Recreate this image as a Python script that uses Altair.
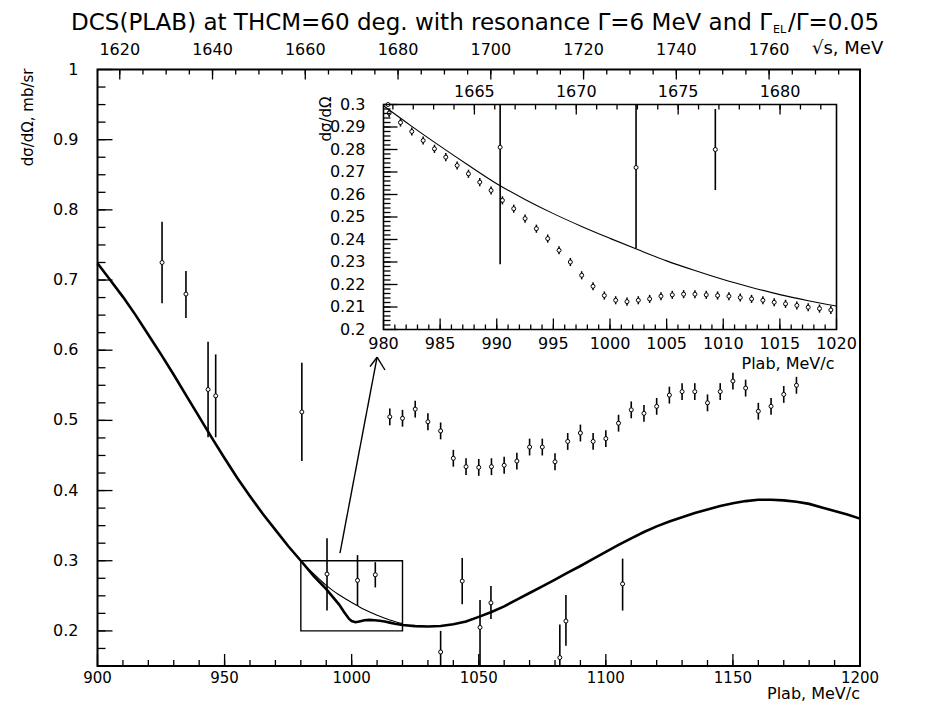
import altair as alt
import pandas as pd

# ---------------- data ----------------
# thick curve (DCS with resonance), main panel
res_p = [900, 905, 910, 915, 920, 925, 930, 935, 940, 945, 950, 955, 960, 965, 970, 975, 980,
         985, 990, 995, 997, 999, 1000, 1001.5, 1003, 1005, 1007, 1009, 1011, 1013, 1015, 1017, 1020,
         1025, 1030, 1035, 1040, 1045, 1050, 1055, 1060, 1065, 1070, 1075, 1080, 1085, 1090, 1095,
         1100, 1105, 1110, 1115, 1120, 1125, 1130, 1135, 1140, 1145, 1150, 1155, 1160, 1165, 1170,
         1175, 1180, 1185, 1190, 1195, 1200]
res_v = [0.724, 0.700, 0.676, 0.650, 0.622, 0.594, 0.565, 0.535, 0.505, 0.475, 0.446, 0.418, 0.392,
         0.367, 0.344, 0.321, 0.300,
         0.2785, 0.2596, 0.2378, 0.2270, 0.2171, 0.2140, 0.2124, 0.2133, 0.2151, 0.2157, 0.2152,
         0.2145, 0.2133, 0.2118, 0.2103, 0.2085,
         0.2068, 0.2062, 0.2070, 0.2095, 0.2133, 0.2200, 0.2270, 0.2350, 0.2445, 0.2540, 0.2635,
         0.2730, 0.2830, 0.2925, 0.3025, 0.3125, 0.3225, 0.3320, 0.3410, 0.3490, 0.3560, 0.3620,
         0.3680, 0.3730, 0.3780, 0.3820, 0.3850, 0.3870, 0.3870, 0.3860, 0.3840, 0.3810, 0.3760,
         0.3710, 0.3660, 0.3600]

# thin curve (no resonance), 980-1020
bg_p = [980, 982.5, 985, 987.5, 990, 992.5, 995, 997.5, 1000, 1002.5, 1005, 1007.5, 1010,
        1012.5, 1015, 1017.5, 1020]
bg_v = [0.2995, 0.2903, 0.2815, 0.2730, 0.2648, 0.2578, 0.2515, 0.2458, 0.2405, 0.2354, 0.2305,
        0.2262, 0.2222, 0.2187, 0.2155, 0.2128, 0.2104]

# sparse measured points (large error bars)
sp_p = [925.4, 934.8, 943.5, 946.5, 980.4, 990.3, 1002.3, 1009.3, 1035.0, 1043.5, 1050.5,
        1054.8, 1081.9, 1084.3, 1106.6]
sp_v = [0.725, 0.680, 0.544, 0.535, 0.512, 0.281, 0.272, 0.280, 0.170, 0.271, 0.205,
        0.240, 0.162, 0.214, 0.267]
sp_lo = [0.667, 0.646, 0.476, 0.476, 0.442, 0.229, 0.236, 0.262, 0.140, 0.238, 0.140,
         0.217, 0.115, 0.179, 0.229]
sp_hi = [0.783, 0.713, 0.612, 0.594, 0.582, 0.332, 0.308, 0.298, 0.200, 0.304, 0.244,
         0.264, 0.209, 0.251, 0.303]

# upper series (pseudo-data, small error bars)
up_p = [1015, 1020, 1025, 1030, 1035, 1040, 1045, 1050, 1055, 1060, 1065, 1070, 1075, 1080,
        1085, 1090, 1095, 1100, 1105, 1110, 1115, 1120, 1125, 1130, 1135, 1140, 1145, 1150,
        1155, 1160, 1165, 1170, 1175]
up_v = [0.505, 0.503, 0.516, 0.498, 0.485, 0.446, 0.434, 0.433, 0.434, 0.436, 0.442, 0.462,
        0.462, 0.441, 0.470, 0.482, 0.470, 0.474, 0.496, 0.515, 0.510, 0.520, 0.536, 0.541,
        0.541, 0.525, 0.541, 0.556, 0.546, 0.513, 0.520, 0.537, 0.550]
up_e = [0.012, 0.012, 0.012, 0.012, 0.012, 0.012, 0.012, 0.012, 0.012, 0.012, 0.012, 0.012,
        0.012, 0.012, 0.012, 0.012, 0.012, 0.012, 0.012, 0.012, 0.012, 0.012, 0.012, 0.012,
        0.012, 0.012, 0.012, 0.012, 0.012, 0.012, 0.012, 0.012, 0.012]

# inset: dense points 980.5 ... 1019.5
in_p = [980.5, 981.5, 982.5, 983.5, 984.5, 985.5, 986.5, 987.5, 988.5, 989.5, 990.5, 991.5,
        992.5, 993.5, 994.5, 995.5, 996.5, 997.5, 998.5, 999.5, 1000.5, 1001.5, 1002.5, 1003.5,
        1004.5, 1005.5, 1006.5, 1007.5, 1008.5, 1009.5, 1010.5, 1011.5, 1012.5, 1013.5, 1014.5,
        1015.5, 1016.5, 1017.5, 1018.5, 1019.5]
in_v = [0.2962, 0.2920, 0.2880, 0.2840, 0.2803, 0.2766, 0.2729, 0.2692, 0.2655, 0.2618, 0.2574,
        0.2537, 0.2493, 0.2448, 0.2404, 0.2352, 0.2300, 0.2241, 0.2192, 0.2151, 0.2130, 0.2124,
        0.2130, 0.2136, 0.2148, 0.2154, 0.2157, 0.2157, 0.2154, 0.2151, 0.2148, 0.2142, 0.2136,
        0.2130, 0.2121, 0.2114, 0.2107, 0.2099, 0.2093, 0.2087]
in_e = [0.0018] * len(in_v)

# box and arrow (main-panel coordinates)
box_p = [980, 1020]
box_v = [0.2, 0.3]
arrow_p0 = [995.4, 1010.0, 1010.0]
arrow_v0 = [0.311, 0.590, 0.590]
arrow_p1 = [1010.0, 1007.2, 1013.1]
arrow_v1 = [0.590, 0.5765, 0.5718]

# axes
main_x_major = [900, 950, 1000, 1050, 1100, 1150, 1200]
main_x_minor = list(range(910, 1200, 10))
main_y_major = [0.2, 0.3, 0.4, 0.5, 0.6, 0.7, 0.8, 0.9, 1.0]
main_y_labels = ["0.2", "0.3", "0.4", "0.5", "0.6", "0.7", "0.8", "0.9", "1"]
main_y_minor = [0.175 + 0.025 * i for i in range(33)]
top_major = [1620, 1640, 1660, 1680, 1700, 1720, 1740, 1760]
top_minor = list(range(1620, 1780, 5))
sqrt_s_range = [1615.2, 1779.6]

in_x_major = [980, 985, 990, 995, 1000, 1005, 1010, 1015, 1020]
in_x_minor = list(range(981, 1020))
in_y_major = [0.2, 0.21, 0.22, 0.23, 0.24, 0.25, 0.26, 0.27, 0.28, 0.29, 0.3]
in_y_labels = ["0.2", "0.21", "0.22", "0.23", "0.24", "0.25", "0.26", "0.27", "0.28", "0.29", "0.3"]
in_y_minor = [0.2 + 0.002 * i for i in range(1, 50)]
in_top_major = [1665, 1670, 1675, 1680]
in_top_minor = list(range(1661, 1683))
in_sqrt_s_range = [1660.54, 1682.77]

# ---------------- geometry ----------------
W, H = 762.5, 596.5
PAD_L, PAD_T = 89.5, 61.5
X0 = PAD_L + 8       # page x of plot origin
Y0 = PAD_T + 8       # page y of plot origin
IN_L, IN_R, IN_T, IN_B = 286, 739, 35, 260
FONT = "DejaVu Sans"

XM = alt.Scale(domain=[900, 1200], nice=False, zero=False)
YM = alt.Scale(domain=[0.15, 1.0], nice=False, zero=False, clamp=True)
XT = alt.Scale(domain=sqrt_s_range, nice=False, zero=False)
XI = alt.Scale(domain=[980, 1020], range=[IN_L, IN_R], nice=False, zero=False)
YI = alt.Scale(domain=[0.2, 0.3], range=[IN_B, IN_T], nice=False, zero=False, clamp=True)
XIT = alt.Scale(domain=in_sqrt_s_range, range=[IN_L, IN_R], nice=False, zero=False)


def qx(f, s):
    return alt.X(f + ":Q", scale=s, axis=None)


def qy(f, s):
    return alt.Y(f + ":Q", scale=s, axis=None)


def qx2(f):
    return alt.X2(f + ":Q")


def qy2(f):
    return alt.Y2(f + ":Q")


layers = []

# ---------- main panel ----------
df_res = pd.DataFrame({"p": res_p, "v": res_v})
layers.append(alt.Chart(df_res).mark_line(color="black", strokeWidth=2.6)
              .encode(x=qx("p", XM), y=qy("v", YM)))
df_bg = pd.DataFrame({"p": bg_p, "v": bg_v})
layers.append(alt.Chart(df_bg).mark_line(color="black", strokeWidth=1.1, interpolate="monotone")
              .encode(x=qx("p", XM), y=qy("v", YM)))

df_box = pd.DataFrame({"p0": [box_p[0]], "p1": [box_p[1]], "v0": [box_v[0]], "v1": [box_v[1]]})
layers.append(alt.Chart(df_box).mark_rect(fillOpacity=0, stroke="black", strokeWidth=1.4)
              .encode(x=qx("p0", XM), x2=qx2("p1"), y=qy("v0", YM), y2=qy2("v1")))

df_arrow = pd.DataFrame({"p0": arrow_p0, "v0": arrow_v0, "p1": arrow_p1, "v1": arrow_v1})
layers.append(alt.Chart(df_arrow).mark_rule(color="black", strokeWidth=1.4)
              .encode(x=qx("p0", XM), y=qy("v0", YM), x2=qx2("p1"), y2=qy2("v1")))

df_sp = pd.DataFrame({"p": sp_p, "v": sp_v, "lo": sp_lo, "hi": sp_hi})
layers.append(alt.Chart(df_sp).mark_rule(color="black", strokeWidth=1.6)
              .encode(x=qx("p", XM), y=qy("lo", YM), y2=qy2("hi")))
layers.append(alt.Chart(df_sp).mark_point(shape="circle", filled=True, fill="white",
                                          stroke="black", strokeWidth=1, size=16, opacity=1)
              .encode(x=qx("p", XM), y=qy("v", YM)))

df_up = pd.DataFrame({"p": up_p, "v": up_v, "e": up_e})
df_up["lo"] = df_up["v"] - df_up["e"]
df_up["hi"] = df_up["v"] + df_up["e"]
layers.append(alt.Chart(df_up).mark_rule(color="black", strokeWidth=1.6)
              .encode(x=qx("p", XM), y=qy("lo", YM), y2=qy2("hi")))
layers.append(alt.Chart(df_up).mark_point(shape="circle", filled=True, fill="white",
                                          stroke="black", strokeWidth=1, size=16, opacity=1)
              .encode(x=qx("p", XM), y=qy("v", YM)))


# ticks drawn inside the frame
def xticks(vals, scale, y0, length, width=1.3):
    d = pd.DataFrame({"t": vals})
    return (alt.Chart(d).mark_rule(color="black", strokeWidth=width)
            .encode(x=qx("t", scale), y=alt.value(y0), y2=alt.value(y0 + length)))


def yticks(vals, scale, x0, length, width=1.3):
    d = pd.DataFrame({"t": vals})
    return (alt.Chart(d).mark_rule(color="black", strokeWidth=width)
            .encode(y=qy("t", scale), x=alt.value(x0), x2=alt.value(x0 + length)))


layers.append(xticks(main_x_major, XM, H, -12))
layers.append(xticks(main_x_minor, XM, H, -6))
layers.append(yticks(main_y_major, YM, 0, 15))
layers.append(yticks(main_y_minor, YM, 0, 8))
layers.append(xticks(top_major, XT, 0, 10))
layers.append(xticks(top_minor, XT, 0, 5))


def text_layer(df, enc, size=16, align="center", baseline="middle", angle=0):
    return alt.Chart(df).mark_text(font=FONT, fontSize=size, align=align, baseline=baseline,
                                   angle=angle, color="black").encode(**enc)


df_xl = pd.DataFrame({"t": main_x_major, "s": [str(v) for v in main_x_major]})
layers.append(text_layer(df_xl, dict(x=qx("t", XM), y=alt.value(H + 12), text="s:N"), size=15))
df_yl = pd.DataFrame({"t": main_y_major, "s": main_y_labels})
layers.append(text_layer(df_yl, dict(y=qy("t", YM), x=alt.value(-19), text="s:N"), align="right"))
df_tl = pd.DataFrame({"t": top_major, "s": [str(v) for v in top_major]})
layers.append(text_layer(df_tl, dict(x=qx("t", XT), y=alt.value(-20), text="s:N")))

df_one = pd.DataFrame({"s": ["Plab, MeV/c"]})
layers.append(text_layer(df_one, dict(x=alt.value(W), y=alt.value(H + 28), text="s:N"), align="right"))
df_one = pd.DataFrame({"s": ["√s, MeV"]})
layers.append(text_layer(df_one, dict(x=alt.value(812 - X0), y=alt.value(-21), text="s:N"),
                         size=18, align="left"))
df_one = pd.DataFrame({"s": ["dσ/dΩ, mb/sr"]})
layers.append(text_layer(df_one, dict(x=alt.value(-70), y=alt.value(-1), text="s:N"),
                         size=15, align="right", angle=270))

# title: main part, subscript, tail
df_one = pd.DataFrame({"s": ["DCS(PLAB) at THCM=60 deg. with resonance Γ=6 MeV and Γ"]})
layers.append(text_layer(df_one, dict(x=alt.value(772 - X0), y=alt.value(23 - Y0), text="s:N"),
                         size=23, align="right"))
df_one = pd.DataFrame({"s": ["EL"]})
layers.append(text_layer(df_one, dict(x=alt.value(773 - X0), y=alt.value(30 - Y0), text="s:N"),
                         size=11, align="left"))
df_one = pd.DataFrame({"s": ["/Γ=0.05"]})
layers.append(text_layer(df_one, dict(x=alt.value(788 - X0), y=alt.value(23 - Y0), text="s:N"),
                         size=23, align="left"))

# ---------- inset ----------
df_ibox = pd.DataFrame({"p0": [980], "p1": [1020], "v0": [0.2], "v1": [0.3]})
layers.append(alt.Chart(df_ibox).mark_rect(fill="white", stroke="black", strokeWidth=1.6)
              .encode(x=qx("p0", XI), x2=qx2("p1"), y=qy("v0", YI), y2=qy2("v1")))
layers.append(alt.Chart(df_bg).mark_line(color="black", strokeWidth=1.1, interpolate="monotone")
              .encode(x=qx("p", XI), y=qy("v", YI)))

df_in = pd.DataFrame({"p": in_p, "v": in_v, "e": in_e})
df_in["lo"] = df_in["v"] - df_in["e"]
df_in["hi"] = df_in["v"] + df_in["e"]
layers.append(alt.Chart(df_in).mark_rule(color="black", strokeWidth=1.5)
              .encode(x=qx("p", XI), y=qy("lo", YI), y2=qy2("hi")))
layers.append(alt.Chart(df_in).mark_point(shape="circle", filled=True, fill="white",
                                          stroke="black", strokeWidth=1, size=16, opacity=1)
              .encode(x=qx("p", XI), y=qy("v", YI)))

sp_in = alt.Chart(df_sp).transform_filter("datum.p > 980 && datum.p < 1020")
layers.append(sp_in.mark_rule(color="black", strokeWidth=1.6)
              .encode(x=qx("p", XI), y=qy("lo", YI), y2=qy2("hi")))
layers.append(sp_in.mark_point(shape="circle", filled=True, fill="white",
                               stroke="black", strokeWidth=1, size=16, opacity=1)
              .encode(x=qx("p", XI), y=qy("v", YI)))

layers.append(xticks(in_x_major, XI, IN_B, -11))
layers.append(xticks(in_x_minor, XI, IN_B, -5))
layers.append(yticks(in_y_major, YI, IN_L, 14))
layers.append(yticks(in_y_minor, YI, IN_L, 7))
layers.append(xticks(in_top_major, XIT, IN_T, 10))
layers.append(xticks(in_top_minor, XIT, IN_T, 5))

df_ixl = pd.DataFrame({"t": in_x_major, "s": [str(v) for v in in_x_major]})
layers.append(text_layer(df_ixl, dict(x=qx("t", XI), y=alt.value(IN_B + 14), text="s:N")))
df_iyl = pd.DataFrame({"t": in_y_major, "s": in_y_labels})
layers.append(text_layer(df_iyl, dict(y=qy("t", YI), x=alt.value(IN_L - 18), text="s:N"),
                         align="right"))
df_itl = pd.DataFrame({"t": in_top_major, "s": [str(v) for v in in_top_major]})
layers.append(text_layer(df_itl, dict(x=qx("t", XIT), y=alt.value(IN_T - 13), text="s:N")))
df_one = pd.DataFrame({"s": ["Plab, MeV/c"]})
layers.append(text_layer(df_one, dict(x=alt.value(IN_R - 2), y=alt.value(IN_B + 34), text="s:N"),
                         align="right"))
df_one = pd.DataFrame({"s": ["dσ/dΩ"]})
layers.append(text_layer(df_one, dict(x=alt.value(IN_L - 58), y=alt.value(IN_T - 8), text="s:N"),
                         size=15, align="right", angle=270))

chart = (alt.layer(*layers)
         .resolve_scale(x="independent", y="independent")
         .properties(width=W, height=H, autosize="none",
                     padding={"left": PAD_L, "top": PAD_T, "right": 60, "bottom": 36},
                     background="white")
         .configure_view(stroke="black", strokeWidth=2))

chart.save("out.html", embed_options={"renderer": "svg", "actions": False})
